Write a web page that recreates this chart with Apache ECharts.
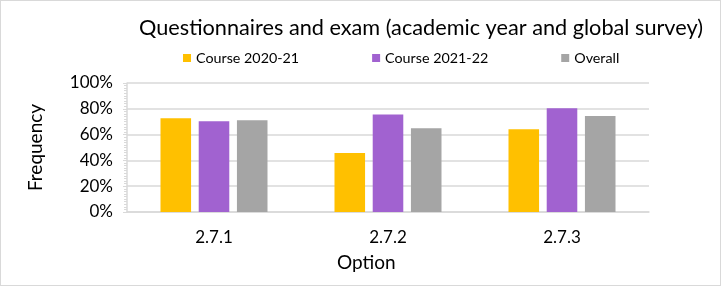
<!DOCTYPE html>
<html>
<head>
<meta charset="utf-8">
<script src="https://cdn.jsdelivr.net/npm/echarts@6/dist/echarts.min.js"></script>
<style>
html,body{margin:0;padding:0;background:#fff;}
#c{width:719px;height:284px;border:1px solid #d9d9d9;}
</style>
</head>
<body>
<div id="c"></div>
<script>
const categories = ['2.7.1', '2.7.2', '2.7.3'];
const course2021 = [0.727, 0.458, 0.641];
const course2122 = [0.704, 0.756, 0.804];
const overall = [0.712, 0.649, 0.745];
const yTicks = [0, 0.2, 0.4, 0.6, 0.8, 1];
const seriesNames = ['Course 2020-21', 'Course 2021-22', 'Overall'];
const colors = ['#FFC000', '#A162D0', '#A5A5A5'];

const FONT = 'Lato';
const chart = echarts.init(document.getElementById('c'), null, {renderer: 'canvas'});
chart.setOption({
  animation: false,
  color: colors,
  textStyle: {fontFamily: FONT, color: '#000'},
  title: {
    text: 'Questionnaires and exam (academic year and global survey)',
    left: 415, top: 11, textAlign: 'center',
    textStyle: {fontFamily: FONT, fontSize: 21.7, fontWeight: 'normal', color: '#000'}
  },
  legend: {
    left: 182, top: 50, padding: 0,
    itemGap: 73, itemWidth: 8, itemHeight: 8, icon: 'rect',
    textStyle: {fontFamily: FONT, fontSize: 14.3, color: '#000'},
    data: seriesNames
  },
  grid: {left: 126, right: 71, top: 82, bottom: 73, containLabel: false},
  xAxis: {
    type: 'category', data: categories,
    axisLine: {lineStyle: {color: '#d9d9d9', width: 1.5}},
    axisTick: {show: false},
    axisLabel: {fontFamily: FONT, fontSize: 17, color: '#000', margin: 17}
  },
  yAxis: {
    type: 'value', min: yTicks[0], max: yTicks[yTicks.length - 1], interval: 0.2,
    name: 'Frequency', nameLocation: 'middle', nameGap: 82,
    nameTextStyle: {fontFamily: FONT, fontSize: 19, color: '#000'},
    axisLine: {show: true, lineStyle: {color: '#d9d9d9', width: 1.5}},
    axisTick: {show: true, length: 4, lineStyle: {color: '#d9d9d9'}},
    minorTick: {show: true, splitNumber: 10, length: 3, lineStyle: {color: '#d9d9d9'}},
    splitLine: {lineStyle: {color: '#d9d9d9', width: 1.5}},
    axisLabel: {fontFamily: FONT, fontSize: 17, color: '#000', margin: 14,
      formatter: v => Math.round(v * 100) + '%'}
  },
  graphic: [{
    type: 'text', left: 336, top: 252,
    style: {text: 'Option', font: '19px ' + FONT, fill: '#000'}
  }],
  series: [
    {name: seriesNames[0], type: 'bar', data: course2021, barGap: '25%', barCategoryGap: '38.5%'},
    {name: seriesNames[1], type: 'bar', data: course2122, barGap: '25%', barCategoryGap: '38.5%'},
    {name: seriesNames[2], type: 'bar', data: overall, barGap: '25%', barCategoryGap: '38.5%'}
  ]
});
</script>
</body>
</html>
